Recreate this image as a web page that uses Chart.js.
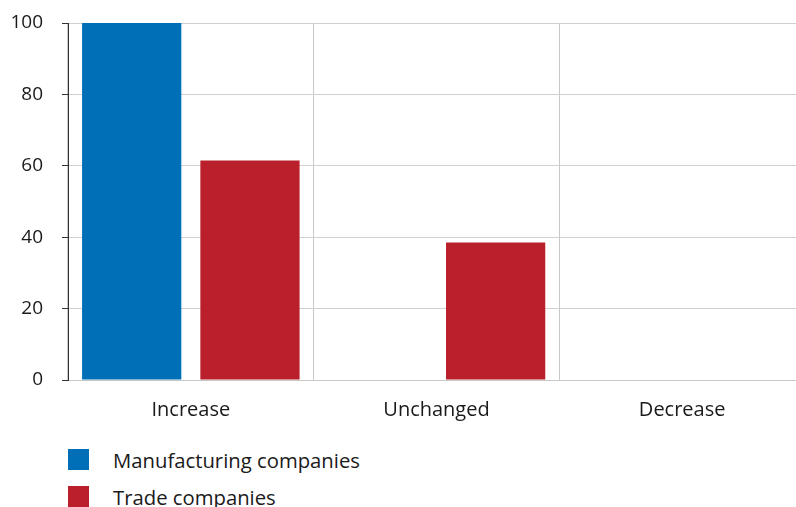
<!DOCTYPE html>
<html><head><meta charset="utf-8">
<script src="https://cdn.jsdelivr.net/npm/chart.js@4"></script>
<style>
html,body{margin:0;padding:0;background:#fff;overflow:hidden;width:796px;height:507px;}
#wrap{position:relative;width:810px;height:430px;}
#legend{position:absolute;left:68px;top:441px;font-family:"Open Sans",sans-serif;font-size:20.3px;color:#1a1a1a;}
.item{display:flex;align-items:center;height:37px;}
.sw{width:21px;height:21px;margin-right:24px;}
</style></head>
<body>
<div id="wrap"><canvas id="c" width="810" height="430"></canvas></div>
<div id="legend"></div>
<script>
const categories = ["Increase", "Unchanged", "Decrease"];
const manufacturing = [100, 0, 0];
const trade = [61.5, 38.5, 0];
const seriesNames = ["Manufacturing companies", "Trade companies"];
const seriesColors = ["#006FB7", "#BA1F2C"];
const yTicks = [0, 20, 40, 60, 80, 100];

const xFont = {family: '"Open Sans", sans-serif', size: 20};
const yFont = {family: '"Open Sans", sans-serif', size: 19};
new Chart(document.getElementById('c'), {
  type: 'bar',
  data: {
    labels: categories,
    datasets: [
      {label: seriesNames[0], data: manufacturing, backgroundColor: seriesColors[0]},
      {label: seriesNames[1], data: trade, backgroundColor: seriesColors[1]}
    ]
  },
  options: {
    responsive: false,
    devicePixelRatio: 1,
    animation: false,
    barPercentage: 0.839,
    categoryPercentage: 0.963,
    layout: {padding: {top: 23, right: 5, bottom: 0, left: 0}},
    plugins: {legend: {display: false}, tooltip: {enabled: false}},
    scales: {
      x: {
        offset: true,
        grid: {offset: true, color: '#c8c8c8', drawTicks: false, lineWidth: 1},
        border: {color: '#c8c8c8'},
        ticks: {font: xFont, color: '#1a1a1a', padding: 18},
        afterFit: s => { s.height = 50; s.paddingLeft = 0; s.paddingRight = 0; }
      },
      y: {
        min: 0, max: 100,
        afterBuildTicks: s => { s.ticks = yTicks.map(v => ({value: v})); },
        grid: {color: '#d0d0d0', tickColor: '#333', tickLength: 6, lineWidth: 1},
        border: {color: '#333', width: 1},
        ticks: {font: yFont, color: '#1a1a1a', padding: 19},
        afterFit: s => { s.width = 68; s.paddingTop = 0; s.paddingBottom = 0; }
      }
    }
  }
});

const lg = document.getElementById('legend');
seriesNames.forEach((n, i) => {
  const d = document.createElement('div'); d.className = 'item';
  const sw = document.createElement('div'); sw.className = 'sw'; sw.style.background = seriesColors[i];
  const t = document.createElement('span'); t.textContent = n;
  d.appendChild(sw); d.appendChild(t); lg.appendChild(d);
});
</script>
</body></html>
